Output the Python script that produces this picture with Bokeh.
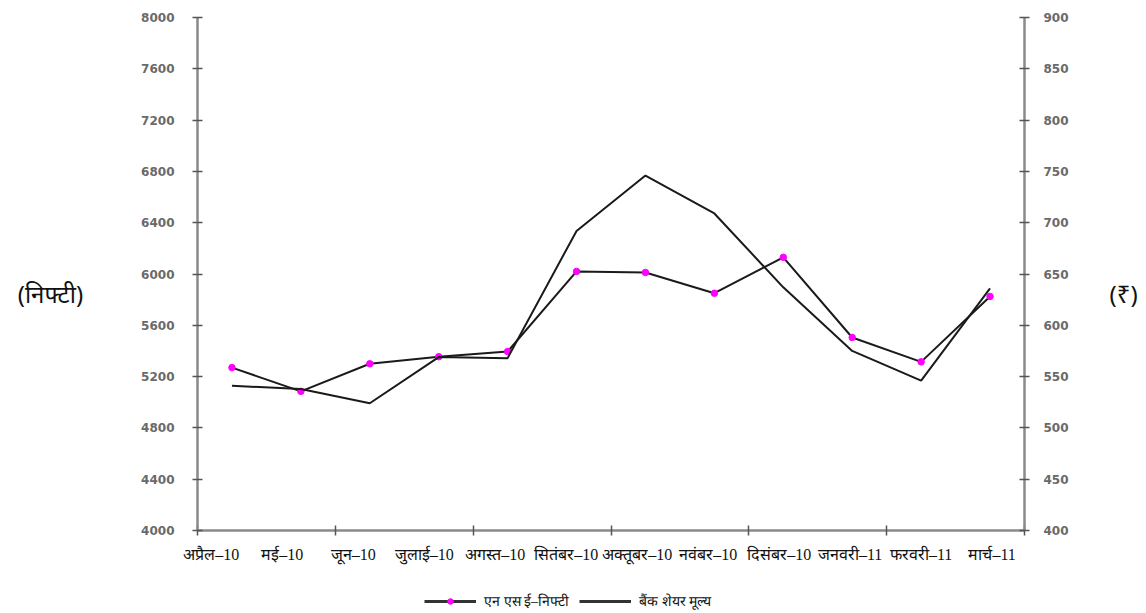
from bokeh.plotting import figure
from bokeh.layouts import column
from bokeh.models import Range1d, LinearAxis, FixedTicker, Legend, LegendItem, ColumnDataSource
from bokeh.embed import file_html
from bokeh.resources import INLINE

months = ["अप्रैल–10", "मई–10", "जून–10", "जुलाई–10", "अगस्त–10", "सितंबर–10",
          "अक्तूबर–10", "नवंबर–10", "दिसंबर–10", "जनवरी–11", "फरवरी–11", "मार्च–11"]
nifty = [5270, 5085, 5300, 5355, 5395, 6020, 6012, 5850, 6130, 5505, 5315, 5825]
bank = [541, 538, 524, 569, 568, 692, 746, 709, 637, 575, 546, 636]
left_ticks = [4000, 4400, 4800, 5200, 5600, 6000, 6400, 6800, 7200, 7600, 8000]
right_ticks = [400, 450, 500, 550, 600, 650, 700, 750, 800, 850, 900]
left_title = "(निफ्टी)"
right_title = "(₹)"
legend_labels = ["एन एस ई–निफ्टी", "बैंक शेयर मूल्य"]

W = 1144
n = len(months)
xpos = [i + 0.5 for i in range(n)]
# month labels sit slightly left of the points and spread a little wider, as in the source
label_pos = [0.2 + 1.03 * i for i in range(n)]
src = ColumnDataSource(dict(x=xpos, nifty=nifty, bank=bank))

p = figure(width=W, height=574, output_backend="svg", toolbar_location=None,
           x_range=Range1d(0, n), y_range=Range1d(left_ticks[0], left_ticks[-1]),
           min_border_left=197, min_border_right=W - 1024, min_border_top=17, min_border_bottom=44)
p.extra_y_ranges = {"right": Range1d(right_ticks[0], right_ticks[-1])}
p.outline_line_color = None
p.xgrid.visible = False
p.ygrid.visible = False

axis_color = "#8a8a8a"
tick_font = "DejaVu Sans"
dev_font = "Noto Sans"
serif_font = "Liberation Serif"

# x axis
xa = p.xaxis[0]
xa.ticker = FixedTicker(ticks=label_pos, minor_ticks=list(range(0, n + 1, 2)))
xa.major_label_overrides = {x: m for x, m in zip(label_pos, months)}
xa.major_tick_line_color = None
xa.minor_tick_line_color = "#555555"
xa.minor_tick_in = 5
xa.minor_tick_out = 5
xa.minor_tick_line_width = 1.5
xa.axis_line_color = axis_color
xa.axis_line_width = 2.5
xa.major_label_text_font = serif_font
xa.major_label_text_font_size = "16px"
xa.major_label_text_color = "#111111"
xa.major_label_standoff = 9

def style_y(ax, standoff, title, title_standoff):
    ax.minor_tick_line_color = None
    ax.major_tick_in = 5
    ax.major_tick_out = 5
    ax.major_tick_line_color = "#555555"
    ax.major_tick_line_width = 1.5
    ax.axis_line_color = axis_color
    ax.axis_line_width = 2.5
    ax.major_label_text_font = tick_font
    ax.major_label_text_font_size = "12px"
    ax.major_label_text_font_style = "bold"
    ax.major_label_text_color = "#6a6a6a"
    ax.major_label_standoff = standoff
    ax.axis_label = title
    ax.axis_label_orientation = "horizontal"
    ax.axis_label_text_font = dev_font
    ax.axis_label_text_font_style = "normal"
    ax.axis_label_text_font_size = "24px"
    ax.axis_label_text_color = "#111111"
    ax.axis_label_standoff = title_standoff

ya = p.yaxis[0]
ya.ticker = FixedTicker(ticks=left_ticks)
style_y(ya, 18, "\n" + left_title, 55)

ra = LinearAxis(y_range_name="right", ticker=FixedTicker(ticks=right_ticks))
style_y(ra, 14, "\n" + right_title, 38)
p.add_layout(ra, "right")

# series
p.line("x", "nifty", source=src, line_color="#1a1a1a", line_width=2)
p.scatter("x", "nifty", source=src, size=6.5, fill_color="#ff00ff", line_color="#ff00ff")
p.line("x", "bank", source=src, y_range_name="right", line_color="#1a1a1a", line_width=2)

# legend strip below the chart (its frame is aligned with the chart frame)
lg = figure(width=W, height=38, output_backend="svg", toolbar_location=None,
            x_range=Range1d(0, n), y_range=Range1d(0, 1),
            x_axis_location=None, y_axis_location=None,
            min_border_left=0, min_border_right=0, min_border_top=0, min_border_bottom=0)
lg.outline_line_color = None
lg.xgrid.visible = False
lg.ygrid.visible = False
# same data, but outside this strip's y range, so only the legend samples show
r1 = lg.line("x", "nifty", source=src, line_color="#333333", line_width=3)
r1s = lg.scatter("x", "nifty", source=src, size=8, fill_color="#ff00ff", line_color="#ff00ff")
r2 = lg.line("x", "bank", source=src, line_color="#333333", line_width=3)
legend = Legend(items=[LegendItem(label=legend_labels[0], renderers=[r1, r1s]),
                       LegendItem(label=legend_labels[1], renderers=[r2])],
                orientation="horizontal", location=(227, 2),
                glyph_width=52, glyph_height=14, label_text_font=serif_font,
                label_text_font_size="14px", label_text_color="#111111",
                border_line_color=None, background_fill_alpha=0,
                padding=3, margin=0, spacing=10, label_standoff=8)
lg.add_layout(legend, "center")

layout = column(p, lg, spacing=0)
open("out.html", "w").write(file_html(layout, INLINE))
